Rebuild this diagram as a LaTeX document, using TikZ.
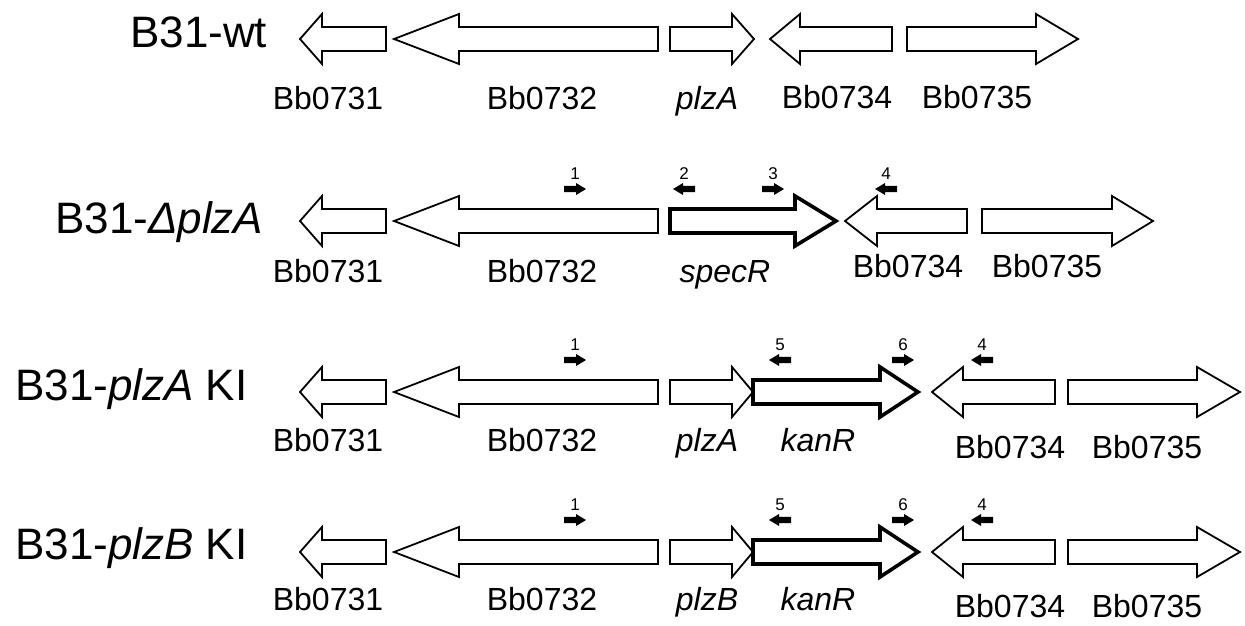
\documentclass[tikz,border=0pt]{standalone}
\usepackage{fontspec}
\setmainfont{Liberation Sans}

\tikzset{
  gene/.style={draw=black, line width=1.8pt, fill=white, line join=miter},
  cassette/.style={gene, line width=3.6pt},
  genelabel/.style={anchor=base, inner sep=0pt, font=\fontsize{32}{36}\selectfont},
  strain/.style={anchor=base west, inner sep=0pt, font=\fontsize{44}{50}\selectfont},
  primernum/.style={inner sep=0pt, font=\fontsize{17}{19}\selectfont},
}

% block arrow: style, tail x, head base x, tip x, centre y
\newcommand{\genearrow}[5][gene]{%
  \draw[#1] (#2,#5-12) -- (#3,#5-12) -- (#3,#5-25) -- (#4,#5)
    -- (#3,#5+25) -- (#3,#5+12) -- (#2,#5+12) -- cycle;}

% primer: name, x, y, direction (1 or -1), number
\newcommand{\primerarrow}[5]{%
  \fill[black] ({#2-11*(#4)},{#3-3.2}) -- ({#2+1*(#4)},{#3-3.2}) -- ({#2+1*(#4)},{#3-6})
    -- ({#2+11*(#4)},#3) -- ({#2+1*(#4)},{#3+6}) -- ({#2+1*(#4)},{#3+3.2})
    -- ({#2-11*(#4)},{#3+3.2}) -- cycle;
  \node[primernum] (#1) at (#2,#3-15) {#5};}

\begin{document}
\begin{tikzpicture}[x=1pt,y=-1pt]
  \useasboundingbox (0,0) rectangle (1245,626);

  % strain names
  \node[strain] (t-wt) at (130,48) {B31-wt};
  \node[strain] (t-del) at (55,233) {B31-\textit{ΔplzA}};
  \node[strain] (t-kia) at (15,400) {B31-\textit{plzA} KI};
  \node[strain] (t-kib) at (15,559) {B31-\textit{plzB} KI};

  % Bb0731 and Bb0732 are the same in every strain
  \foreach \r/\y/\ly in {wt/39/110, del/221/282, kia/392/451, kib/552/610} {
    \genearrow{386}{322}{300}{\y}
    \genearrow{658}{459}{394}{\y}
    \node[genelabel] (\r-0731) at (328,\ly) {Bb0731};
    \node[genelabel] (\r-0732) at (542,\ly) {Bb0732};
  }

  % wild type
  \genearrow{670}{732}{754}{39}
  \genearrow{892}{800}{770}{39}
  \genearrow{907}{1036}{1078}{39}
  \node[genelabel] (wt-plzA) at (707,110) {\textit{plzA}};
  \node[genelabel] (wt-0734) at (837,108) {Bb0734};
  \node[genelabel] (wt-0735) at (977,108) {Bb0735};

  % deletion
  \genearrow[cassette]{670}{795}{836}{221}
  \genearrow{967}{877}{845}{221}
  \genearrow{982}{1112}{1153}{221}
  \node[genelabel] (del-specR) at (725,282) {\textit{specR}};
  \node[genelabel] (del-0734) at (908,277) {Bb0734};
  \node[genelabel] (del-0735) at (1047,277) {Bb0735};
  \primerarrow{del-p1}{575}{189}{1}{1}
  \primerarrow{del-p2}{684}{189}{-1}{2}
  \primerarrow{del-p3}{773}{189}{1}{3}
  \primerarrow{del-p4}{886}{189}{-1}{4}

  % knock-ins
  \foreach \r/\g/\y/\ly/\py in {kia/plzA/392/451/360, kib/plzB/552/610/520} {
    \genearrow{670}{732}{753}{\y}
    \genearrow[cassette]{753}{880}{918}{\y}
    \genearrow{1055}{963}{932}{\y}
    \genearrow{1068}{1197}{1240}{\y}
    \node[genelabel] (\r-\g) at (707,\ly) {\textit{\g}};
    \node[genelabel] (\r-kanR) at (818,\ly) {\textit{kanR}};
    \node[genelabel] (\r-0734) at (1010,\ly+7) {Bb0734};
    \node[genelabel] (\r-0735) at (1147,\ly+7) {Bb0735};
    \primerarrow{\r-p1}{575}{\py}{1}{1}
    \primerarrow{\r-p5}{780}{\py}{-1}{5}
    \primerarrow{\r-p6}{903}{\py}{1}{6}
    \primerarrow{\r-p4}{982}{\py}{-1}{4}
  }
\end{tikzpicture}
\end{document}
